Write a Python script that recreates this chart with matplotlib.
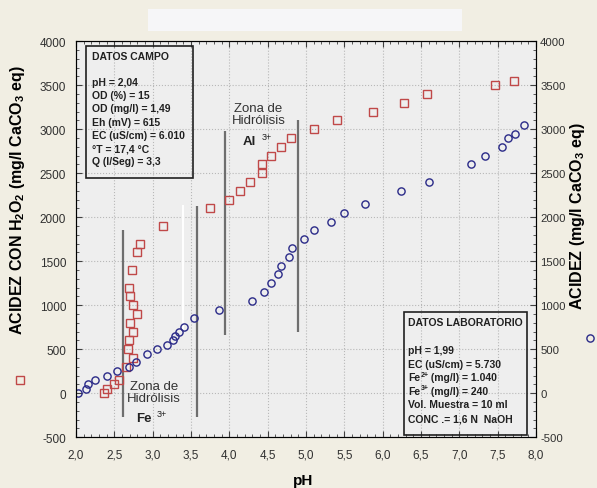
import matplotlib
matplotlib.use("Agg")
import matplotlib.pyplot as plt
from matplotlib.patches import Rectangle
from matplotlib.lines import Line2D
from matplotlib.ticker import MultipleLocator, FuncFormatter

plt.rcParams['font.family'] = ['Liberation Sans', 'DejaVu Sans']
plt.rcParams['mathtext.fontset'] = 'custom'
plt.rcParams['mathtext.rm'] = 'Liberation Sans'
plt.rcParams['mathtext.bf'] = 'Liberation Sans:bold'
plt.rcParams['axes.unicode_minus'] = False

# acidez con H2O2 (cuadrados rojos)
red_ph = [2.36, 2.41, 2.50, 2.56, 2.65, 2.74, 2.68, 2.69, 2.74, 2.70, 2.79, 2.74,
          2.70, 2.69, 2.73, 2.80, 2.84, 3.14, 3.75, 4.00, 4.14, 4.27, 4.42, 4.43,
          4.55, 4.67, 4.81, 5.10, 5.40, 5.88, 6.28, 6.58, 7.47, 7.71]
red_acid = [0, 50, 100, 150, 300, 400, 500, 600, 700, 800, 900, 1000,
            1100, 1200, 1400, 1600, 1700, 1900, 2100, 2200, 2300, 2400, 2500, 2600,
            2700, 2800, 2900, 3000, 3100, 3200, 3300, 3400, 3500, 3550]

# acidez (circulos azules)
blue_ph = [2.03, 2.13, 2.16, 2.25, 2.40, 2.53, 2.69, 2.78, 2.93, 3.06, 3.19, 3.27,
           3.29, 3.35, 3.41, 3.54, 3.87, 4.29, 4.45, 4.54, 4.64, 4.67, 4.78, 4.82,
           4.97, 5.10, 5.33, 5.50, 5.77, 6.24, 6.61, 7.15, 7.33, 7.56, 7.63, 7.73, 7.85]
blue_acid = [0, 50, 100, 150, 200, 250, 300, 350, 450, 500, 550, 600,
             650, 700, 750, 850, 950, 1050, 1150, 1250, 1350, 1450, 1550, 1650,
             1750, 1850, 1950, 2050, 2150, 2300, 2400, 2600, 2700, 2800, 2900, 2950, 3050]

# lineas de zonas de hidrolisis
zone_ph = [2.61, 3.58, 3.95, 4.90]
zone_lo = [-270, -270, 660, 700]
zone_hi = [1850, 2130, 2980, 3100]

campo_lines = ["pH = 2,04", "OD (%) = 15", "OD (mg/l) = 1,49", "Eh (mV) = 615",
               "EC (uS/cm) = 6.010", "°T = 17,4 °C", "Q (l/Seg) = 3,3"]
# (texto base, superindice, resto)
lab_lines = [("pH = 1,99", "", ""), ("EC (uS/cm) = 5.730", "", ""),
             ("Fe", "2+", " (mg/l) = 1.040"), ("Fe", "3+", " (mg/l) = 240"),
             ("Vol. Muestra = 10 ml", "", ""), ("CONC .= 1,6 N  NaOH", "", "")]

bg = '#f1eee3'
fig = plt.figure(figsize=(5.97, 4.89), dpi=100, facecolor=bg)
ax = fig.add_axes([0.1273, 0.1037, 0.7705, 0.8098])
ax.set_facecolor('#eeeeee')

# barra blanca del titulo
fig.add_artist(Rectangle((0.248, 0.935), 0.526, 0.045, transform=fig.transFigure,
                         facecolor='#f6f6f8', edgecolor='none'))

ax.set_xlim(2.0, 8.0)
ax.set_ylim(-500, 4000)
ax.xaxis.set_major_locator(MultipleLocator(0.5))
ax.xaxis.set_minor_locator(MultipleLocator(0.1))
ax.yaxis.set_major_locator(MultipleLocator(500))
ax.yaxis.set_minor_locator(MultipleLocator(100))
ax.xaxis.set_major_formatter(FuncFormatter(lambda v, p: f"{v:.1f}".replace('.', ',')))
ax.grid(True, which='major', color='#b8b8b8', linestyle=':', linewidth=0.8)
ax.set_axisbelow(True)
for s in ax.spines.values():
    s.set_color('#404040')
ax.tick_params(which='both', direction='in', top=True, right=False, colors='#404040',
               labelcolor='#303030', labelsize=8.5)
ax.tick_params(which='major', length=4)
ax.tick_params(which='minor', length=2.5)
ax.tick_params(axis='x', pad=8)
ax.tick_params(axis='y', pad=7)

ax2 = ax.twinx()
ax2.set_ylim(-500, 4000)
ax2.yaxis.set_major_locator(MultipleLocator(500))
ax2.yaxis.set_minor_locator(MultipleLocator(100))
ax2.tick_params(which='both', direction='in', colors='#404040', labelcolor='#303030',
                labelsize=8.2, pad=3)
ax2.tick_params(which='major', length=4)
ax2.tick_params(which='minor', length=2.5)

# lineas de zonas
ax.vlines(zone_ph, zone_lo, zone_hi, colors='#6e6e6e', linewidth=1.6, zorder=2)
ax.vlines([3.40], [730], [2140], colors='white', linewidth=1.4, zorder=2)

ax.plot(red_ph, red_acid, linestyle='none', marker='s', markersize=6,
        markerfacecolor='none', markeredgecolor='#c04848', markeredgewidth=1.0, zorder=3)
ax.plot(blue_ph, blue_acid, linestyle='none', marker='o', markersize=5.2,
        markerfacecolor='none', markeredgecolor='#2a2a88', markeredgewidth=1.0, zorder=3)

# textos de zonas
ax.text(4.38, 3175, "Zona de\nHidrólisis", ha='center', va='center', fontsize=9.5,
        color='#333333', linespacing=1.05)
ax.text(4.35, 2870, "Al", ha='right', va='center', fontsize=9.5, fontweight='bold', color='#222222')
ax.text(4.42, 2920, "3+", ha='left', va='center', fontsize=6.5, color='#222222')
ax.text(3.02, 15, "Zona de\nHidrólisis", ha='center', va='center', fontsize=9.5,
        color='#333333', linespacing=1.05)
ax.text(2.99, -280, "Fe", ha='right', va='center', fontsize=9.5, fontweight='bold', color='#222222')
ax.text(3.05, -235, "3+", ha='left', va='center', fontsize=6.5, color='#222222')

# cuadro datos campo
ax.add_patch(Rectangle((0.0217, 0.654), 0.233, 0.333, transform=ax.transAxes,
                       facecolor='none', edgecolor='#202020', linewidth=1.2, zorder=4))
ax.text(0.034, 0.963, "DATOS CAMPO", transform=ax.transAxes, fontsize=7.5,
        fontweight='bold', va='center', color='#202020', zorder=5)
for i, t in enumerate(campo_lines):
    ax.text(0.034, 0.897 - i * 0.0333, t, transform=ax.transAxes, fontsize=7.5,
            fontweight='bold', va='center', color='#202020', zorder=5)

# cuadro datos laboratorio
ax.add_patch(Rectangle((0.713, 0.006), 0.268, 0.31, transform=ax.transAxes,
                       facecolor='none', edgecolor='#202020', linewidth=1.2, zorder=4))
ax.text(0.7225, 0.2917, "DATOS LABORATORIO", transform=ax.transAxes, fontsize=7.5,
        fontweight='bold', va='center', color='#202020', zorder=5)
x0 = 0.7225
for i, (base, sup, rest) in enumerate(lab_lines):
    y = 0.2205 - i * 0.0344
    ax.text(x0, y, base, transform=ax.transAxes, fontsize=7.5,
            fontweight='bold', va='center', color='#202020', zorder=5)
    if sup:
        ax.text(x0 + 0.0275, y + 0.008, sup, transform=ax.transAxes, fontsize=5,
                fontweight='bold', va='center', color='#202020', zorder=5)
        ax.text(x0 + 0.043, y, rest, transform=ax.transAxes, fontsize=7.5,
                fontweight='bold', va='center', color='#202020', zorder=5)

# etiquetas de ejes
fig.text(0.5075, 0.017, "pH", ha='center', va='center', fontsize=11, fontweight='bold')
fig.text(0.030, 0.591, r"ACIDEZ CON H$_\mathbf{2}$O$_\mathbf{2}$ (mg/l CaCO$_\mathbf{3}$ eq)",
         rotation=90, ha='center', va='center', fontsize=11.5, fontweight='bold')
fig.text(0.968, 0.558, r"ACIDEZ (mg/l CaCO$_\mathbf{3}$ eq)",
         rotation=90, ha='center', va='center', fontsize=11.5, fontweight='bold')

# marcadores de leyenda
fig.add_artist(Line2D([0.0335], [0.221], transform=fig.transFigure, marker='s',
                      markersize=6, markerfacecolor='none', markeredgecolor='#c04848',
                      linestyle='none'))
fig.add_artist(Line2D([0.989], [0.307], transform=fig.transFigure, marker='o',
                      markersize=5.2, markerfacecolor='none', markeredgecolor='#2a2a88',
                      linestyle='none'))

fig.savefig("out.png", dpi=100, facecolor=bg)
